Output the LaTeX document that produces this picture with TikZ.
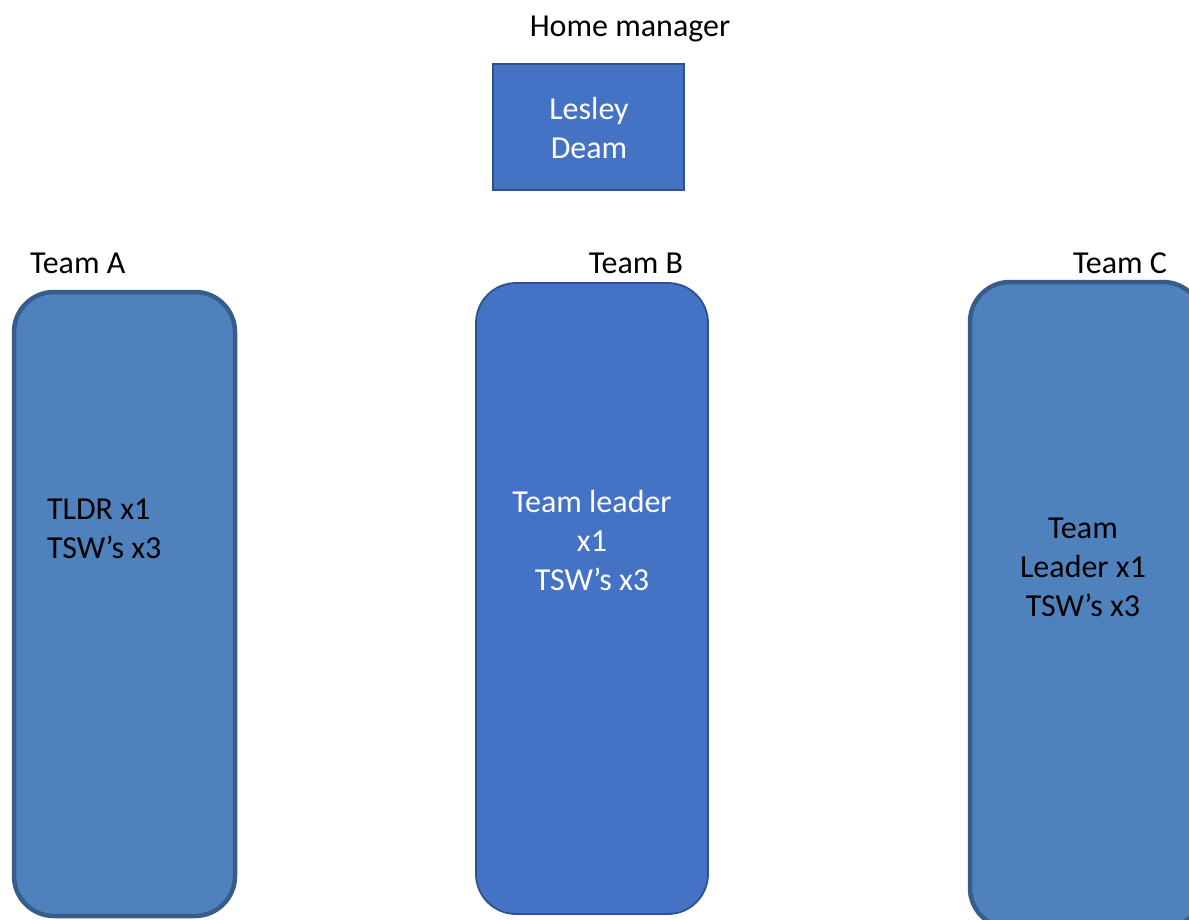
\documentclass[tikz,border=0pt]{standalone}
\usepackage{fontspec}
\setmainfont{Carlito}
\definecolor{fillold}{HTML}{4F81BD}
\definecolor{lineold}{HTML}{385D8A}
\definecolor{fillnew}{HTML}{4472C4}
\definecolor{linenew}{HTML}{2F528F}
\tikzset{
  txt/.style={font=\fontsize{32}{39}\selectfont, inner sep=0pt, outer sep=0pt},
  teamold/.style={rectangle, rounded corners=40pt, draw=lineold, line width=4.5pt, fill=fillold, inner sep=0pt},
  teamnew/.style={rectangle, rounded corners=40pt, draw=linenew, line width=1.8pt, fill=fillnew, inner sep=0pt},
  mgrbox/.style={rectangle, draw=linenew, line width=2pt, fill=fillnew, inner sep=0pt},
}
\begin{document}
\begin{tikzpicture}[x=1pt,y=-1pt]
\useasboundingbox (0,0) rectangle (1189,920);
\clip (0,0) rectangle (1189,920);
\fill[white] (0,0) rectangle (1189,920);

% home manager
\node[txt, anchor=base] (hmlabel) at (630,37) {Home manager};
\node[mgrbox, minimum width=191pt, minimum height=126pt] (mgr) at (588.5,127) {};
\node[txt, text=white, align=center, anchor=base] (mgrname) at (589,159) {Lesley\\Deam};

% team labels
\node[txt, anchor=base west] (labA) at (30,273) {Team A};
\node[txt, anchor=base] (labB) at (636,273) {Team B};
\node[txt, anchor=base] (labC) at (1120,273) {Team C};

% team boxes
\node[teamold, minimum width=221pt, minimum height=624pt] (boxA) at (124.5,604) {};
\node[teamnew, minimum width=232pt, minimum height=631pt] (boxB) at (592,598.5) {};
\node[teamold, minimum width=233pt, minimum height=646pt] (boxC) at (1086.5,605) {};

% team members (anchor = baseline of the last line)
\node[txt, align=left, anchor=base west] (memA) at (47,558) {TLDR x1\\TSW’s x3};
\node[txt, text=white, align=center, anchor=base] (memB) at (592,590) {Team leader\\x1\\TSW’s x3};
\node[txt, align=center, anchor=base] (memC) at (1083,616) {Team\\Leader x1\\TSW’s x3};
\end{tikzpicture}
\end{document}
